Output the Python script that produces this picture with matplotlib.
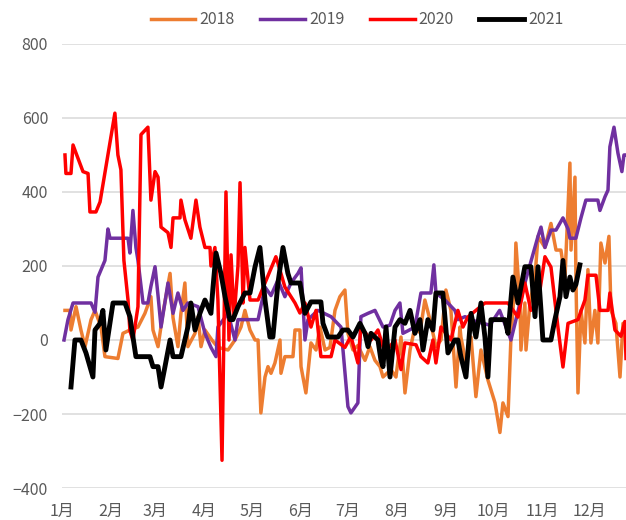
import matplotlib
matplotlib.use('Agg')
import matplotlib.pyplot as plt

plt.rcParams['font.family'] = ['Noto Sans CJK SC', 'DejaVu Sans']

# day of year (0 = 1 Jan) and value
days_2018 = [1.9, 5.1, 5.7, 8.9, 12.0, 14.6, 18.4, 20.9, 24.7, 27.2, 35.4, 38.6, 43.0, 48.1,
             52.5, 56.3, 57.6, 60.8, 63.9, 68.4, 70.3, 73.4, 75.3, 77.8, 79.7, 84.2, 86.1,
             88.0, 90.5, 94.9, 98.7, 105.1, 109.5, 113.3, 115.8, 119.0, 122.2, 124.1, 125.9,
             128.5, 130.4, 132.3, 134.8, 138.0, 138.6, 141.1, 146.2, 147.5, 150.6, 151.3,
             154.4, 157.6, 160.8, 163.3, 166.5, 169.6, 172.8, 175.9, 179.1, 181.0, 184.2,
             187.3, 191.8, 194.9, 198.1, 201.3, 203.2, 208.2, 211.4, 214.6, 217.1, 220.3,
             223.4, 226.6, 229.7, 232.9, 236.7, 239.9, 243.0, 246.2, 249.4, 251.9, 252.5,
             255.7, 258.9, 262.0, 265.2, 269.6, 274.1, 277.2, 279.1, 282.3, 284.2, 286.7,
             287.3, 289.9, 290.5, 293.0, 293.7, 296.2, 299.4, 301.3, 305.7, 309.5, 312.7,
             315.8, 318.4, 321.5, 322.2, 324.7, 325.3, 326.6, 328.5, 331.0, 332.9, 334.8,
             337.3, 339.2, 341.1, 343.7, 346.2, 347.5, 350.6, 353.2, 355.1, 357.0]
vals_2018 = [80, 80, 27, 90, 27, -18, 55, 80, 35, -45, -50, 18, 27, 35,
             72, 117, 27, -18, 72, 180, 60, -18, 72, 154, -18, 18, 63,
             -18, 27, 0, -20, -27, 0, 35, 80, 27, 0, 0, -197,
             -100, -72, -90, -62, 0, -90, -45, -45, 27, 27, -72,
             -143, -8, -27, 35, -27, -20, 80, 117, 135, 18, -27,
             -15, -55, -18, -55, -72, -100, -80, -100, 8, -143, -27,
             35, 20, 108, 55, -18, 0, 135, 80, -127, 35, 8,
             -62, 8, -153, -27, -108, -170, -250, -170, -207, 8, 154,
             262, 100, -27, 100, -27, 100, 170, 280, 250, 315, 243,
             243, 170, 478, 243, 440, 170, -143, 80, -8, 190, -8,
             80, -8, 262, 208, 280, 80, 45, -100, 45, 40]

days_2019 = [1.3, 3.8, 7.0, 18.4, 20.9, 22.8, 27.2, 29.1, 30.4, 41.8, 43.0, 44.9, 46.8,
             48.1, 51.3, 54.4, 56.3, 58.9, 60.8, 62.7, 67.1, 70.3, 73.4, 76.6, 79.7, 86.1,
             90.5, 94.3, 97.5, 98.7, 105.1, 109.5, 111.4, 124.1, 128.5, 132.3, 136.7,
             141.1, 144.9, 149.4, 151.3, 153.8, 155.7, 162.0, 170.3, 176.6, 181.0, 182.9,
             187.3, 189.2, 193.7, 198.1, 203.2, 207.6, 210.8, 213.9, 215.8, 219.0, 223.4,
             227.2, 233.5, 235.4, 236.7, 242.4, 248.7, 250.6, 255.1, 262.0, 270.9, 277.0,
             284.2, 293.0, 301.3, 303.2, 305.7, 309.5, 312.7, 317.1, 320.3, 321.5, 325.3,
             328.5, 331.6, 339.2, 340.5, 343.7, 345.6, 346.8, 349.4, 351.9, 354.4, 355.7,
             357.0]
vals_2019 = [0, 55, 100, 100, 75, 170, 215, 300, 275, 275, 235, 350, 250,
             215, 100, 100, 145, 198, 120, 35, 154, 72, 127, 80, 100, 90,
             18, -20, -45, 35, 72, 0, 55, 55, 143, 120, 162,
             117, 154, 180, 195, 0, 55, 80, 63, 35, -180, -197,
             -170, 63, 72, 80, 35, 40, 80, 100, 18, 25, 35,
             127, 127, 203, 127, 108, 80, 55, 63, 50, 40, 80,
             0, 154, 280, 305, 250, 297, 297, 330, 300, 275, 275,
             330, 378, 378, 350, 387, 405, 522, 575, 505, 455, 500,
             500]

days_2020 = [1.9, 2.5, 5.7, 7.0, 8.9, 13.3, 16.5, 17.7, 21.5, 24.1, 33.5, 35.4, 37.3,
             39.2, 41.8, 43.0, 44.9, 48.1, 50.0, 54.4, 56.3, 58.9, 60.8, 62.7, 67.1, 69.0,
             70.3, 74.7, 75.3, 77.8, 81.6, 84.8, 87.3, 90.5, 93.7, 94.3, 96.8, 98.7, 101.3,
             103.8, 105.7, 107.0, 108.9, 111.4, 112.7, 114.6, 115.8, 119.0, 124.1, 128.5,
             135.4, 137.9, 141.1, 147.5, 150.6, 153.8, 157.6, 160.8, 163.9, 170.3, 172.8,
             179.1, 182.9, 187.3, 189.2, 195.6, 200.0, 204.4, 210.8, 214.6, 217.1, 224.1,
             227.2, 231.6, 234.8, 236.7, 239.9, 246.2, 250.6, 253.8, 256.9, 267.7, 282.3,
             288.6, 293.0, 296.8, 301.3, 305.7, 309.5, 313.9, 317.1, 320.3, 326.6, 331.0,
             332.9, 338.0, 340.5, 345.6, 346.8, 350.0, 353.8, 356.3, 357.0]
vals_2020 = [500, 450, 450, 527, 505, 455, 450, 346, 346, 373, 613, 500, 460,
             215, 108, 25, 0, 90, 555, 575, 378, 455, 440, 305, 290, 250,
             330, 330, 378, 325, 275, 378, 305, 250, 250, 200, 250, 108, -325,
             400, 0, 230, 60, 200, 425, 100, 250, 108, 108, 154,
             225, 190, 143, 100, 73, 100, 35, 80, -45, -45, 0,
             -20, 10, -62, 35, 0, 27, -35, 0, -80, -8, -13,
             -45, -62, 0, -62, 35, 0, 80, 35, 62, 100, 100,
             62, 154, 80, 100, 225, 197, 35, -73, 45, 55, 108,
             175, 175, 80, 80, 127, 27, 10, 50, -50]

days_2021 = [5.7, 8.2, 12.0, 15.2, 19.6, 20.9, 24.1, 25.9, 27.8, 32.3, 39.9, 43.0, 46.8,
             50.0, 55.7, 57.6, 60.8, 62.7, 65.2, 68.4, 70.3, 75.3, 79.7, 81.6, 84.2, 87.3,
             90.5, 94.3, 95.6, 97.5, 100.6, 103.2, 106.3, 108.2, 111.4, 115.8, 119.0, 122.2,
             125.3, 128.5, 131.6, 133.5, 136.7, 139.9, 143.0, 144.9, 150.6, 153.8, 157.6,
             163.9, 165.2, 168.4, 174.7, 177.8, 181.0, 184.2, 188.6, 191.8, 193.7, 195.6,
             200.0, 201.9, 203.2, 205.1, 207.6, 210.8, 213.9, 217.1, 220.3, 223.4, 226.6,
             228.5, 231.6, 234.8, 236.7, 241.1, 244.3, 248.7, 250.6, 252.5, 255.7, 258.9,
             262.0, 265.2, 267.7, 269.6, 271.5, 280.4, 282.3, 285.4, 288.6, 293.0, 296.8,
             299.4, 301.3, 303.2, 304.4, 309.5, 312.0, 315.2, 317.1, 319.0, 321.5, 323.4,
             325.3, 327.8]
vals_2021 = [-127, 0, 0, -35, -100, 27, 45, 80, -27, 100, 100, 63, -45,
             -45, -45, -72, -72, -127, -72, 0, -45, -45, 35, 100, 27, 72,
             108, 72, 143, 235, 180, 117, 55, 55, 90, 127, 127, 198,
             250, 108, 8, 8, 154, 250, 180, 154, 154, 72, 103,
             103, 45, 8, 8, 27, 27, 8, 45, 18, -18, 18,
             0, -55, -72, 35, -100, 35, 55, 45, 80, 18, 55,
             -27, 55, 27, 127, 127, -35, 0, 0, -45, -100, 72,
             8, 100, 8, -100, 55, 55, 18, 170, 100, 198, 198,
             63, 198, 80, 0, 0, 55, 117, 215, 117, 170, 135,
             150, 203]

month_starts = [0, 31, 59, 90, 120, 151, 181, 212, 243, 273, 304, 334]
month_labels = ['1月', '2月', '3月', '4月', '5月', '6月', '7月', '8月', '9月', '10月', '11月', '12月']
y_ticks = [-400, -200, 0, 200, 400, 600, 800]

text_color = '#595959'

fig = plt.figure(figsize=(6.26, 5.2), dpi=100)
ax = fig.add_axes([0.099, 0.0615, 0.901, 0.854])

ax.plot(days_2018, vals_2018, color='#ED7D31', lw=2.5, label='2018', solid_joinstyle='round')
ax.plot(days_2019, vals_2019, color='#7030A0', lw=2.5, label='2019', solid_joinstyle='round')
ax.plot(days_2020, vals_2020, color='#FF0000', lw=2.5, label='2020', solid_joinstyle='round')
ax.plot(days_2021, vals_2021, color='#000000', lw=3.5, label='2021', solid_joinstyle='round')

ax.set_xlim(0, 357)
ax.set_ylim(-400, 800)
ax.set_yticks(y_ticks)
ax.set_xticks(month_starts)
ax.set_xticklabels(month_labels)
ax.grid(axis='y', color='#d9d9d9', lw=1.1)
ax.set_axisbelow(True)
for s in ax.spines.values():
    s.set_visible(False)
ax.tick_params(axis='both', length=0, labelsize=11.5, colors=text_color)
ax.tick_params(axis='y', pad=10)
ax.tick_params(axis='x', pad=11)

fig.legend(loc='center', bbox_to_anchor=(357 / 626, 0.962), ncol=4, frameon=False,
           fontsize=11.5, labelcolor=text_color, handlelength=2.8,
           handletextpad=0.25, columnspacing=1.6)

fig.savefig('out.png', dpi=100)
